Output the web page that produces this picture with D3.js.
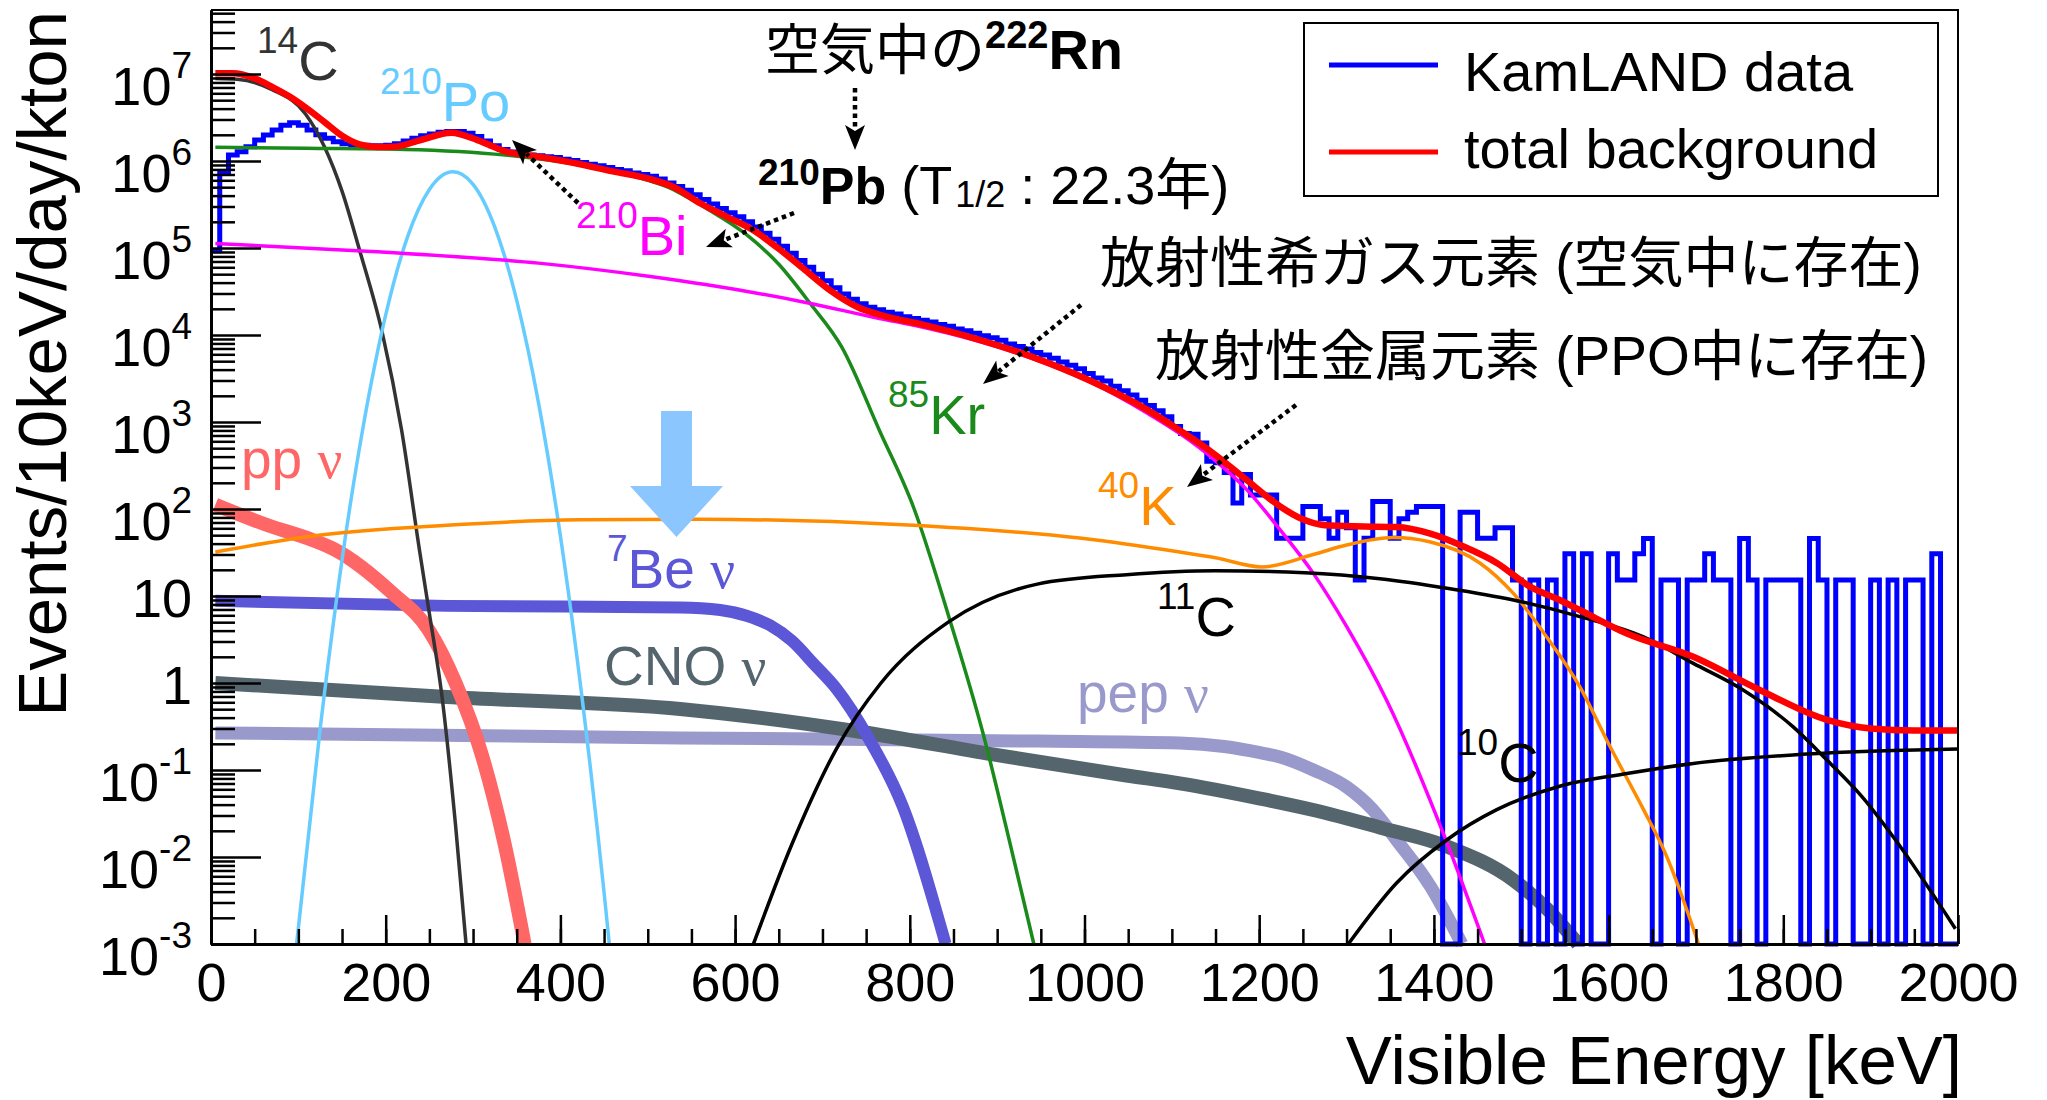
<!DOCTYPE html>
<html>
<head>
<meta charset="utf-8">
<script src="https://cdn.jsdelivr.net/npm/d3@7"></script>
<style>
  body { margin: 0; background: #fff; }
  svg { display: block; }
  text { font-family: 'Liberation Sans', Arial, Helvetica, 'Noto Sans CJK JP', sans-serif; }
</style>
</head>
<body>
<svg id="chart"></svg>
<script>
// ---- data ----
const energyDomain = [0, 2000];          // keV
const rateDomain = [1e-3, 5.44e7];       // events/10keV/day/kton
const binWidth = 10;                     // keV
const xMajorTicks = [0, 200, 400, 600, 800, 1000, 1200, 1400, 1600, 1800, 2000];
const yDecades = [1e-3, 1e-2, 1e-1, 1, 10, 1e2, 1e3, 1e4, 1e5, 1e6, 1e7];

// KamLAND data, one value per 10 keV bin starting at 0 keV
const kamlandData = [
  9.3e4, 7.2e5, 1.17e6, 1.28e6, 1.46e6, 1.74e6, 1.99e6, 2.27e6, 2.57e6, 2.75e6,
  2.57e6, 2.27e6, 2.0e6, 1.82e6, 1.66e6, 1.58e6, 1.54e6, 1.52e6, 1.5e6, 1.5e6,
  1.52e6, 1.58e6, 1.70e6, 1.82e6, 1.95e6, 2.04e6, 2.14e6, 2.19e6, 2.19e6, 2.09e6,
  1.91e6, 1.70e6, 1.50e6, 1.36e6, 1.27e6, 1.21e6, 1.17e6, 1.15e6, 1.12e6, 1.10e6,
  1.05e6, 1.01e6, 9.6e5, 9.2e5, 8.8e5, 8.4e5, 8.0e5, 7.7e5, 7.3e5, 7.0e5,
  6.7e5, 6.2e5, 5.6e5, 5.1e5, 4.6e5, 4.1e5, 3.6e5, 3.2e5, 2.85e5, 2.55e5,
  2.29e5, 2.0e5, 1.74e5, 1.48e5, 1.26e5, 1.05e5, 8.7e4, 7.2e4, 6.0e4, 5.0e4,
  4.2e4, 3.5e4, 2.95e4, 2.57e4, 2.29e4, 2.09e4, 1.95e4, 1.82e4, 1.74e4, 1.62e4,
  1.55e4, 1.48e4, 1.41e4, 1.32e4, 1.26e4, 1.17e4, 1.12e4, 1.05e4, 9.8e3, 9.3e3,
  8.7e3, 7.9e3, 7.4e3, 6.9e3, 6.3e3, 5.9e3, 5.4e3, 4.9e3, 4.5e3, 4.1e3,
  3.6e3, 3.2e3, 2.95e3, 2.57e3, 2.29e3, 2.04e3, 1.78e3, 1.55e3, 1.35e3, 1.15e3,
  890, 740, 725, 575, 355, 340, 263, 117, 250, 145,
  145, 145, 46, 46, 46, 107, 107, 77, 46, 92,
  61, 15.3, 46, 122, 122, 46, 77, 92, 107, 107,
  107, 0, 0, 92, 92, 46, 46, 61, 61, 15.3,
  0, 15.3, 0, 15.3, 0, 30.5, 0, 30.5, 0, 0,
  30.5, 15.3, 15.3, 30.5, 45.8, 0, 15.3, 15.3, 0, 15.3,
  15.3, 30.5, 15.3, 15.3, 0, 45.8, 15.3, 0, 15.3, 15.3,
  15.3, 15.3, 0, 45.8, 15.3, 0, 15.3, 15.3, 0, 0,
  15.3, 0, 15.3, 0, 15.3, 15.3, 0, 30.5, 0, 0
];

// model spectra as [energy keV, rate]
const totalBackground = [[5,1.02e7],[25,1.02e7],[50,8.9e6],[70,7.1e6],[90,5.5e6],[110,4.0e6],[130,2.8e6],[150,1.95e6],[170,1.55e6],[190,1.45e6],[210,1.46e6],[240,1.74e6],[275,2.11e6],[305,1.74e6],[337,1.29e6],[375,1.12e6],[420,9.3e5],[460,7.6e5],[500,6.3e5],[530,5.0e5],[560,3.27e5],[590,2.3e5],[620,1.62e5],[650,9.8e4],[680,5.6e4],[710,3.2e4],[740,2.1e4],[770,1.66e4],[810,1.35e4],[875,9.1e3],[940,5.6e3],[1006,3.0e3],[1072,1.38e3],[1110,790],[1147,440],[1186,214],[1224,107],[1250,76],[1275,65],[1320,63],[1357,62],[1396,52],[1434,37],[1472,24],[1510,12.8],[1544,9.0],[1567,6.9],[1621,3.7],[1697,2.0],[1773,0.83],[1850,0.376],[1900,0.30],[1950,0.285],[2000,0.285]];
const c14Spectrum = [[5,8.9e6],[30,8.7e6],[70,6.6e6],[108,3.5e6],[130,1.45e6],[150,4.5e5],[170,9.5e4],[196,1.07e4],[218,830],[239,32],[250,6.3],[264,0.76],[280,0.023],[292,0.001]];
const po210Spectrum = [[98,0.001],[125,0.30],[150,26],[175,980],[200,1.7e4],[225,1.34e5],[250,4.7e5],[277,7.5e5],[300,5.4e5],[325,1.73e5],[350,2.5e4],[375,1650],[400,49],[425,0.65],[450,0.0039],[456,0.001]];
const kr85Spectrum = [[5,1.44e6],[108,1.40e6],[222,1.36e6],[337,1.17e6],[451,7.9e5],[500,6.0e5],[527,4.8e5],[546,3.8e5],[566,2.9e5],[612,1.45e5],[650,6.5e4],[686,2.3e4],[722,7300],[765,810],[805,100],[844,6.1],[884,0.26],[915,0.014],[942,0.001]];
const bi210Spectrum = [[5,1.13e5],[184,9.1e4],[375,6.7e4],[503,4.7e4],[566,3.8e4],[678,2.4e4],[765,1.55e4],[810,1.26e4],[875,8700],[940,5400],[1006,2900],[1072,1260],[1110,725],[1147,380],[1186,166],[1224,57.5],[1262,18.2],[1300,4.47],[1346,0.63],[1415,0.0145],[1458,0.001]];
const k40Spectrum = [[5,32],[116,49],[270,65],[422,75],[560,76],[792,66],[997,46],[1109,32],[1150,27.5],[1203,21.6],[1262,30],[1300,38.5],[1353,47],[1395,42],[1453,23.8],[1491,10.7],[1529,3.4],[1567,0.91],[1600,0.2],[1640,0.035],[1665,0.011],[1703,0.001]];
const c11Spectrum = [[621,0.001],[665,0.014],[716,0.175],[767,1.0],[844,5.0],[946,13.7],[1048,17.6],[1150,19.5],[1252,18.5],[1338,15.8],[1415,12.3],[1491,9.0],[1567,5.8],[1640,3.4],[1697,1.68],[1754,0.83],[1811,0.315],[1850,0.13],[1892,0.047],[1926,0.017],[1997,0.0015]];
const c10Spectrum = [[1302,0.001],[1357,0.005],[1415,0.0158],[1472,0.035],[1544,0.065],[1621,0.091],[1697,0.119],[1811,0.149],[1926,0.167],[2000,0.174]];
const ppNuSpectrum = [[5,112],[65,65],[116,44],[142,34],[208,10.7],[249,4.1],[280,1.0],[310,0.15],[336,0.0143],[359,0.001]];
const be7NuSpectrum = [[5,8.8],[270,7.7],[537,7.4],[583,6.9],[614,5.9],[640,4.6],[665,3.05],[690,1.66],[716,0.86],[752,0.24],[792,0.038],[841,0.001]];
const cnoNuSpectrum = [[5,1.0],[270,0.69],[540,0.5],[741,0.277],[895,0.151],[1048,0.0865],[1109,0.0703],[1201,0.047],[1262,0.0347],[1338,0.0219],[1415,0.0132],[1491,0.00544],[1530,0.0025],[1565,0.001]];
const pepNuSpectrum = [[5,0.267],[537,0.234],[946,0.215],[1109,0.204],[1160,0.186],[1201,0.158],[1224,0.141],[1262,0.1],[1300,0.064],[1330,0.035],[1357,0.0158],[1396,0.0046],[1432,0.001]];

const legendLabels = ['KamLAND data', 'total background'];


class SpectrumPlot {

  constructor(_config) {
    this.config = {
      parentElement: _config.parentElement,
      containerWidth: _config.containerWidth || 2047,
      containerHeight: _config.containerHeight || 1100,
      frame: _config.frame || {left: 211, right: 1958, top: 10, bottom: 944}
    };
    this.initVis();
  }

  initVis() {
    let vis = this;
    const f = vis.config.frame;

    vis.svg = d3.select(vis.config.parentElement)
        .attr('width', vis.config.containerWidth)
        .attr('height', vis.config.containerHeight);

    vis.xScale = d3.scaleLinear().domain(energyDomain).range([f.left, f.right]);
    vis.yScale = d3.scaleLog().domain(rateDomain).range([f.bottom, f.top]);

    vis.line = d3.line()
        .x(d => vis.xScale(d[0]))
        .y(d => vis.yScale(d[1]))
        .curve(d3.curveMonotoneX);

    // thick neutrino bands go below everything else
    vis.neutrinos = [
      {values: pepNuSpectrum, color: '#9999cc', width: 13},
      {values: cnoNuSpectrum, color: '#55656e', width: 14},
      {values: be7NuSpectrum, color: '#5b57d6', width: 12},
      {values: ppNuSpectrum,  color: '#ff6666', width: 14}
    ];
    vis.backgrounds = [
      {values: c14Spectrum,   color: '#333333', width: 3.5},
      {values: po210Spectrum, color: '#66ccff', width: 3.5},
      {values: kr85Spectrum,  color: '#1a8a1a', width: 3.5},
      {values: bi210Spectrum, color: '#ff00ff', width: 3.5},
      {values: k40Spectrum,   color: '#ff8c00', width: 3.5},
      {values: c11Spectrum,   color: '#000000', width: 3.5},
      {values: c10Spectrum,   color: '#000000', width: 3.5}
    ];

    vis.renderVis();
  }

  renderVis() {
    let vis = this;
    const f = vis.config.frame;

    // neutrino signals
    vis.svg.append('g').selectAll('path')
        .data(vis.neutrinos)
      .join('path')
        .attr('d', d => vis.line(d.values))
        .attr('fill', 'none')
        .attr('stroke', d => d.color)
        .attr('stroke-width', d => d.width);

    // data histogram (empty bins drop to the frame bottom)
    const histPoints = kamlandData.map((v, i) => [i * binWidth, v]);
    histPoints.push([kamlandData.length * binWidth, kamlandData[kamlandData.length - 1]]);
    const histLine = d3.line()
        .x(d => vis.xScale(d[0]))
        .y(d => d[1] > 0 ? vis.yScale(d[1]) : f.bottom)
        .curve(d3.curveStepAfter);
    vis.svg.append('path')
        .attr('d', histLine(histPoints))
        .attr('fill', 'none')
        .attr('stroke', '#0000ff')
        .attr('stroke-width', 5);

    // background components
    vis.svg.append('g').selectAll('path')
        .data(vis.backgrounds)
      .join('path')
        .attr('d', d => vis.line(d.values))
        .attr('fill', 'none')
        .attr('stroke', d => d.color)
        .attr('stroke-width', d => d.width)
        .attr('stroke-linejoin', 'round');

    vis.svg.append('path')
        .attr('d', vis.line(totalBackground))
        .attr('fill', 'none')
        .attr('stroke', '#ff0000')
        .attr('stroke-width', 6.5)
        .attr('stroke-linejoin', 'round');

    vis.renderAxes();
    vis.renderLabels();
  }

  renderAxes() {
    let vis = this;
    const f = vis.config.frame;

    // top and right frame
    vis.svg.append('path')
        .attr('d', `M${f.left},${f.top}H${f.right}V${f.bottom}`)
        .attr('fill', 'none')
        .attr('stroke', '#000')
        .attr('stroke-width', 2);

    const xMinor = d3.range(energyDomain[0], energyDomain[1] + 1, 50);
    const yMinor = [];
    yDecades.forEach(d => d3.range(2, 10).forEach(k => {
      if (d * k < rateDomain[1]) yMinor.push(d * k);
    }));

    const xAxisMinor = d3.axisBottom(vis.xScale).tickValues(xMinor)
        .tickSize(-15).tickSizeOuter(0).tickFormat('');
    const xAxis = d3.axisBottom(vis.xScale).tickValues(xMajorTicks)
        .tickSize(-29).tickSizeOuter(0).tickPadding(19).tickFormat(d3.format('d'));
    const yAxisMinor = d3.axisLeft(vis.yScale).tickValues(yMinor)
        .tickSize(-24).tickSizeOuter(0).tickFormat('');
    const yAxis = d3.axisLeft(vis.yScale).tickValues(yDecades)
        .tickSize(-50).tickSizeOuter(0).tickFormat('');

    [xAxisMinor, xAxis].forEach(ax => {
      vis.svg.append('g')
          .attr('transform', `translate(0,${f.bottom})`)
          .call(ax);
    });
    [yAxisMinor, yAxis].forEach(ax => {
      vis.svg.append('g')
          .attr('transform', `translate(${f.left},0)`)
          .call(ax);
    });
    vis.svg.selectAll('.domain').attr('stroke', '#000').attr('stroke-width', 3);
    vis.svg.selectAll('.tick line').attr('stroke', '#000').attr('stroke-width', 2.5);
    vis.svg.selectAll('.tick text')
        .attr('font-size', 54)
        .attr('font-family', "'Liberation Sans', Arial, sans-serif")
        .attr('fill', '#000');

    // decade labels, ROOT style 10^n
    const yLab = vis.svg.append('g');
    yDecades.forEach(d => {
      const exp = Math.round(Math.log10(d));
      const yPos = vis.yScale(d);
      const t = yLab.append('text')
          .attr('x', 192)
          .attr('text-anchor', 'end')
          .attr('font-size', 54);
      if (exp === 0 || exp === 1) {
        t.attr('y', yPos + 21).text(exp === 0 ? '1' : '10');
      } else {
        t.attr('y', yPos + 31);
        t.append('tspan').text('10');
        t.append('tspan').attr('font-size', 37).attr('dy', -27).text(exp);
      }
    });

    // axis titles
    vis.svg.append('text')
        .attr('transform', 'translate(66,11) rotate(-90)')
        .attr('text-anchor', 'end')
        .attr('font-size', 69)
        .text('Events/10keV/day/kton');
    vis.svg.append('text')
        .attr('x', 1962)
        .attr('y', 1084)
        .attr('text-anchor', 'end')
        .attr('font-size', 69)
        .text('Visible Energy [keV]');
  }

  renderLabels() {
    let vis = this;
    const g = vis.svg.append('g');

    // legend
    g.append('rect')
        .attr('x', 1304).attr('y', 23).attr('width', 634).attr('height', 173)
        .attr('fill', '#fff').attr('stroke', '#000').attr('stroke-width', 2);
    [['#0000ff', 65, 91], ['#ff0000', 152, 168]].forEach(([c, ly, ty], i) => {
      g.append('line').attr('x1', 1329).attr('x2', 1438).attr('y1', ly).attr('y2', ly)
          .attr('stroke', c).attr('stroke-width', 5);
      g.append('text').attr('x', 1464).attr('y', ty).attr('font-size', 56).text(legendLabels[i]);
    });

    // isotope labels with mass number as superscript
    const isotope = (x, y, mass, sym, color) => {
      const t = g.append('text').attr('x', x).attr('y', y).attr('fill', color).attr('font-size', 56);
      t.append('tspan').attr('font-size', 37).attr('dy', -27).text(mass);
      t.append('tspan').attr('dy', 27).text(sym);
      return t;
    };
    isotope(257, 80, '14', 'C', '#333333');
    isotope(380, 121, '210', 'Po', '#66ccff');
    isotope(576, 255, '210', 'Bi', '#ff00ff');
    isotope(888, 434, '85', 'Kr', '#1a8a1a');
    isotope(1098, 525, '40', 'K', '#ff8c00');
    isotope(1157, 636, '11', 'C', '#000000');
    isotope(1457, 782, '10', 'C', '#000000');

    // neutrino labels
    const nu = (x, y, sup, txt, color) => {
      const t = g.append('text').attr('x', x).attr('y', y).attr('fill', color).attr('font-size', 55);
      if (sup) {
        t.append('tspan').attr('font-size', 37).attr('dy', -27).text(sup);
        t.append('tspan').attr('dy', 27).text(txt + ' ');
      } else {
        t.append('tspan').text(txt + ' ');
      }
      t.append('tspan').attr('font-family', "'Liberation Serif', serif").text('ν');
    };
    nu(241, 478, null, 'pp', '#ff6666');
    nu(607, 588, '7', 'Be', '#5b57d6');
    nu(604, 685, null, 'CNO', '#55656e');
    nu(1077, 712, null, 'pep', '#9999cc');

    // 7Be highlight arrow
    g.append('path')
        .attr('d', 'M661,411H692V486H723L676.5,537L630,486H661Z')
        .attr('fill', '#8cc6ff');

    // Japanese annotations
    const rn = g.append('text').attr('x', 765).attr('y', 69).attr('font-size', 55);
    rn.append('tspan').text('空気中の');
    rn.append('tspan').attr('font-weight', 'bold').attr('font-size', 38).attr('dy', -21).text('222');
    rn.append('tspan').attr('font-weight', 'bold').attr('font-size', 56).attr('dy', 21).text('Rn');

    const pb = g.append('text').attr('x', 758).attr('y', 204).attr('font-size', 54);
    pb.append('tspan').attr('font-weight', 'bold').attr('font-size', 37).attr('dy', -19).text('210');
    pb.append('tspan').attr('font-weight', 'bold').attr('font-size', 52).attr('dy', 19).text('Pb');
    pb.append('tspan').text(' (T');
    pb.append('tspan').attr('font-size', 36).attr('dy', 3).attr('dx', 3).text('1/2');
    pb.append('tspan').attr('dy', -3).text(' : 22.3');
    pb.append('tspan').attr('font-size', 56).text('年');
    pb.append('tspan').text(')');

    g.append('text').attr('x', 1100).attr('y', 282).attr('font-size', 55)
        .text('放射性希ガス元素 (空気中に存在)');
    g.append('text').attr('x', 1155).attr('y', 375).attr('font-size', 55)
        .text('放射性金属元素 (PPO中に存在)');

    // dotted arrows pointing at the components
    const arrows = [
      [[855, 88], [855, 150]],
      [[794, 213], [706, 247]],
      [[578, 203], [512, 140]],
      [[1081, 305], [983, 384]],
      [[1296, 405], [1187, 487]]
    ];
    arrows.forEach(([[x1, y1], [x2, y2]]) => {
      const len = Math.hypot(x2 - x1, y2 - y1);
      const ux = (x2 - x1) / len, uy = (y2 - y1) / len;
      const nx = -uy, ny = ux;
      const headLen = 25, halfW = 10;
      const bx = x2 - ux * headLen, by = y2 - uy * headLen;
      g.append('line')
          .attr('x1', x1).attr('y1', y1)
          .attr('x2', bx + ux * 5).attr('y2', by + uy * 5)
          .attr('stroke', '#000').attr('stroke-width', 4.5)
          .attr('stroke-dasharray', '4.5,4');
      g.append('path')
          .attr('d', `M${x2},${y2}L${bx + nx * halfW},${by + ny * halfW}L${bx + ux * 6},${by + uy * 6}L${bx - nx * halfW},${by - ny * halfW}Z`)
          .attr('fill', '#000');
    });
  }
}

new SpectrumPlot({parentElement: '#chart'});
</script>
</body>
</html>
